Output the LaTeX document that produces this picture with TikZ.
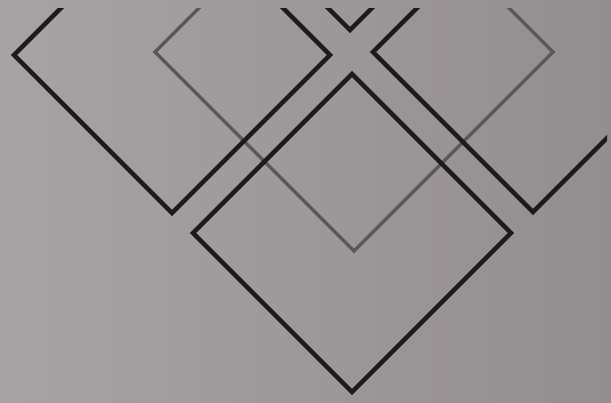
\documentclass[tikz,border=0pt]{standalone}
\usepackage{xcolor}
\usepackage{tikz}
\usetikzlibrary{calc}
\definecolor{paper}{RGB}{158,152,155}
\definecolor{ink}{RGB}{28,26,28}
\definecolor{pencil}{RGB}{92,87,89}

\begin{document}
\begin{tikzpicture}[x=0.02cm,y=-0.02cm,
      dk/.style={draw=ink,line width=2.5pt,line join=miter},
      lt/.style={draw=pencil,line width=1.9pt,line join=miter}]
      \fill[left color=paper!90!white,right color=paper!93!black] (0,0) rectangle (611,402);
      \useasboundingbox (0,0) rectangle (611,402);
      \clip (0,9) rectangle (607,402);
      % centres of the squares
      \coordinate (cg) at (354,52);
      \coordinate (cl) at (172,55);
      \coordinate (ct) at (350,-130);
      \coordinate (cr) at (533,52);
      \coordinate (cb) at (352,233);
      \draw[lt] ($(cg)+(-199,0)$) -- ++(199,199) -- ++(199,-199) -- ++(-199,-199) -- cycle;
      \foreach \c/\r in {cl/158,ct/160,cr/160,cb/159}
        \draw[dk] ($(\c)+(-\r,0)$) -- ++(\r,\r) -- ++(\r,-\r) -- ++(-\r,-\r) -- cycle;
    \end{tikzpicture}
\end{document}
